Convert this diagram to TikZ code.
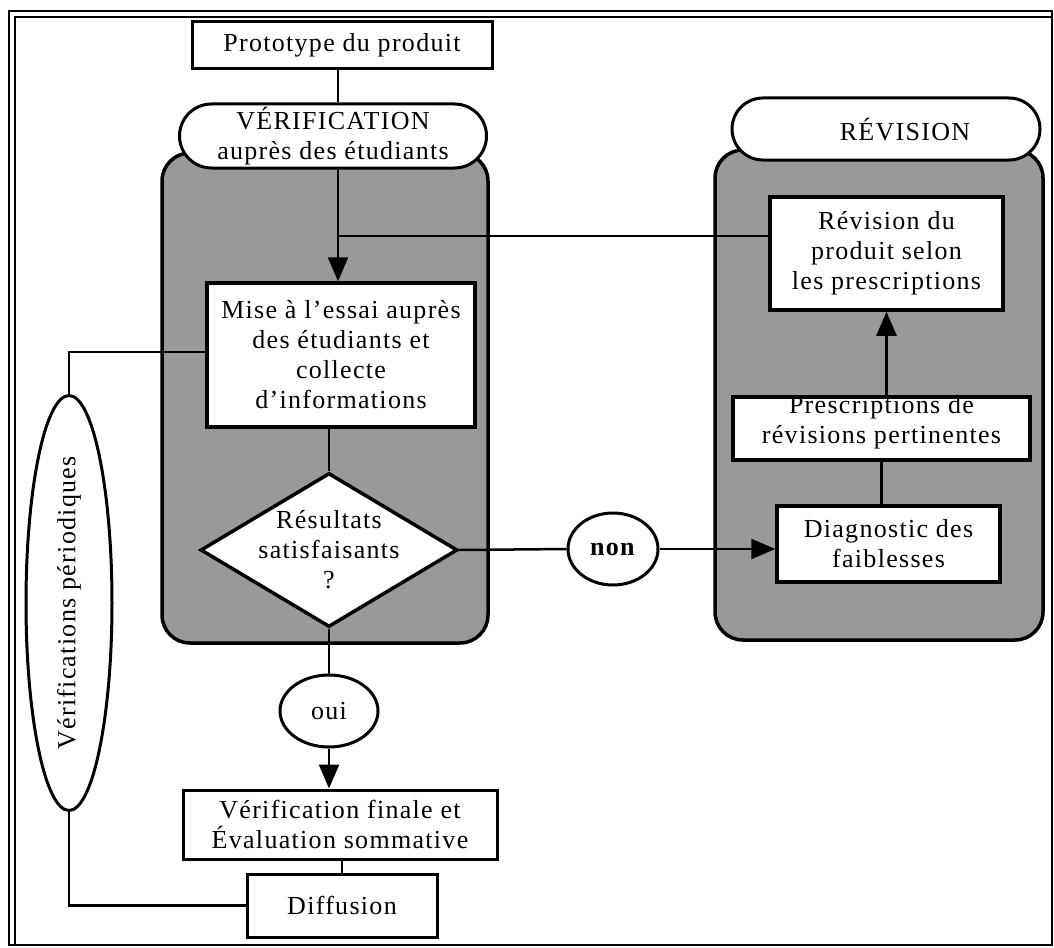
\documentclass[tikz,border=0pt]{standalone}
\usepackage{fontspec}
\setmainfont{Liberation Serif}[LetterSpace=5]
\usetikzlibrary{shapes.geometric,shapes.misc,arrows.meta}
\begin{document}
\begin{tikzpicture}[x=1pt,y=-1pt,
  font=\fontsize{26}{30}\selectfont,
  box/.style={draw, line width=3pt, fill=white, align=center, inner sep=0pt},
  inbox/.style={box, line width=3.5pt},
  pill/.style={draw, line width=3pt, fill=white, rounded rectangle, align=center, inner sep=0pt},
  panel/.style={draw, line width=3.5pt, fill=black!40, rounded corners=28pt, inner sep=0pt},
  oval/.style={draw, line width=3pt, fill=white, ellipse, inner sep=0pt},
  txt/.style={align=center, inner sep=0pt},
  link/.style={line width=2.5pt},
  arr/.style={line width=2.5pt, -{Triangle[length=24pt,width=20pt]}}
]
\useasboundingbox (0,0) rectangle (1054,947);

% outer double frame
\draw[line width=2.5pt] (9,11) rectangle (1052,945);
\draw[line width=2pt] (15,945) -- (15,17) -- (1052,17);

% shaded panels
\node[panel, minimum width=326pt, minimum height=490pt] (lpanel) at (325,398) {};
\node[panel, minimum width=328pt, minimum height=490pt] (rpanel) at (879,395) {};

% main column
\node[box, minimum width=300pt, minimum height=47pt] (proto) at (342,45.5) {Prototype du produit};
\node[pill, minimum width=307pt, minimum height=64pt] (verif) at (333,136) {VÉRIFICATION\\auprès des étudiants};
\node[inbox, minimum width=268pt, minimum height=144pt] (mise) at (341,355)
  {Mise à l'essai auprès\\des étudiants et\\collecte\\d'informations};
\node[diamond, draw, line width=3.5pt, fill=white, aspect=1.67, minimum width=257pt, minimum height=154pt, inner sep=0pt] (dec) at (329,550) {};
\node[txt] at (dec.center) {Résultats\\satisfaisants\\?};
\node[oval, minimum width=98pt, minimum height=72pt] (oui) at (329,711) {oui};
\node[box, minimum width=314pt, minimum height=69pt] (final) at (340,824.5)
  {Vérification finale et\\Évaluation sommative};
\node[box, minimum width=190pt, minimum height=63pt] (diff) at (342,905.5) {Diffusion};

% periodic loop
\node[oval, rotate=90, minimum width=380pt, minimum height=86pt] (per) at (69,603) {Vérifications périodiques};
\coordinate (P1) at (69,352);

% revision column
\node[pill, minimum width=308pt, minimum height=62pt] (revpill) at (886,129) {};
\node[txt] at (905,130) {RÉVISION};
\node[inbox, minimum width=233pt, minimum height=113pt] (revprod) at (886.5,253.5)
  {Révision du\\produit selon\\les prescriptions};
\node[inbox, minimum width=297pt, minimum height=63pt] (presc) at (881.5,428.5) {};
\node[txt] at ([yshift=6pt]presc.center) {Prescriptions de\\révisions pertinentes};
\node[inbox, minimum width=223pt, minimum height=76pt] (diag) at (888.5,544) {Diagnostic des\\faiblesses};
\node[oval, minimum width=90pt, minimum height=72pt] (non) at (613,549) {\textbf{non}};
\coordinate (J) at (338,236);

% connectors
\draw[link] (proto.south -| 338,0) -- (verif.north -| 338,0);
\draw[arr] (verif.south -| J) -- (mise.north -| J);
\draw[link] (revprod.west |- J) -- (J);
\draw[link] (mise.south -| dec.north) -- (dec.north);
\draw[link] (mise.west |- P1) -- (P1) -- (per.east);
\draw[link] (per.west) |- (diff.west);
\draw[link] (dec.south) -- (oui.north);
\draw[arr] (oui.south) -- (final.north -| oui.south);
\draw[link] (final.south -| diff.north) -- (diff.north);
\draw[link] (dec.east) -- (non.west);
\draw[arr] (non.east) -- (diag.west |- non.east);
\draw[link] (diag.north -| presc.south) -- (presc.south);
\draw[arr] (presc.north -| revprod.south) -- (revprod.south);
\end{tikzpicture}
\end{document}
